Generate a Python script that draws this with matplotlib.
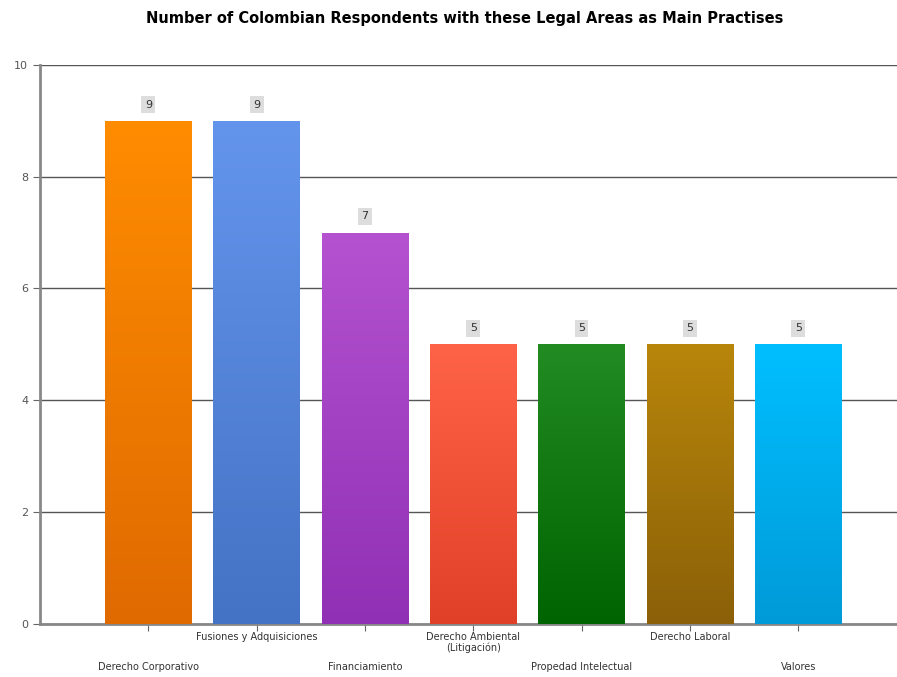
import matplotlib.pyplot as plt
import numpy as np
from matplotlib.colors import LinearSegmentedColormap

categories = ["Derecho Corporativo", "Fusiones y Adquisiciones", "Financiamiento",
              "Derecho Ambiental\n(Litigación)", "Propedad Intelectual",
              "Derecho Laboral", "Valores"]
values = [9, 9, 7, 5, 5, 5, 5]
top_colors = ["#ff8c00", "#6495ed", "#b452d0", "#ff6347", "#228b22", "#b8860b", "#00bfff"]
bottom_colors = ["#e06a00", "#4472c4", "#9030b4", "#e04028", "#006400", "#8b6008", "#009ad8"]

fig = plt.figure(figsize=(8.97, 6.77), dpi=100)
ax = fig.add_axes([0.0446, 0.0783, 0.96, 0.826])

x = np.arange(len(values))
bars = ax.bar(x, values, width=0.8, color="none", zorder=3)
grad = np.linspace(1, 0, 256).reshape(-1, 1)
for b, c1, c2 in zip(bars, top_colors, bottom_colors):
    cmap = LinearSegmentedColormap.from_list("g", [c2, c1])
    bx, by = b.get_x(), b.get_y()
    im = ax.imshow(grad, cmap=cmap, aspect="auto", zorder=3,
                   extent=[bx, bx + b.get_width(), by, by + b.get_height()])
    im.set_clip_path(b)

for xi, v in zip(x, values):
    ax.text(xi, v + 0.2, str(v), ha="center", va="bottom", fontsize=8, color="#333333",
            bbox=dict(boxstyle="square,pad=0.3", fc="#dddddd", ec="none"), zorder=4)

ax.set_xlim(-1, 6.95)
ax.set_ylim(0, 10)
ax.set_yticks([0, 2, 4, 6, 8, 10])
ax.yaxis.grid(True, color="#555555", linewidth=1, zorder=1)
ax.set_xticks(x)
labels = [("\n\n\n" + c) if i % 2 == 0 else c for i, c in enumerate(categories)]
ax.set_xticklabels(labels, fontsize=7, color="#333333", linespacing=1.0)
ax.tick_params(axis="x", length=5, color="#666666", pad=1)
ax.tick_params(axis="y", length=5, color="#666666", labelsize=8, labelcolor="#555555")
for s in ["top", "right"]:
    ax.spines[s].set_visible(False)
ax.spines["left"].set_color("#888888")
ax.spines["left"].set_linewidth(2)
ax.spines["bottom"].set_color("#888888")
ax.spines["bottom"].set_linewidth(2)

fig.text(0.518, 0.973, "Number of Colombian Respondents with these Legal Areas as Main Practises",
         ha="center", va="center", fontsize=10.5, fontweight="bold")

fig.savefig("out.png", dpi=100)
